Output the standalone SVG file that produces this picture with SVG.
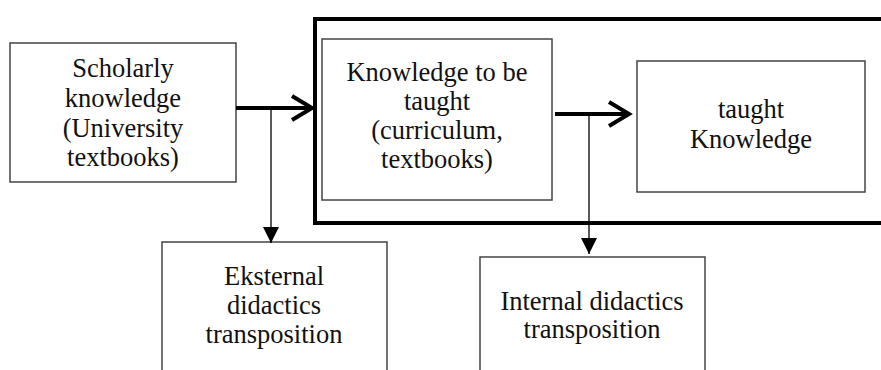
<svg xmlns="http://www.w3.org/2000/svg" width="881" height="370" viewBox="0 0 881 370">
<style>
.box{fill:#fff;stroke:#444;stroke-width:1.5}
.frame{fill:none;stroke:#000;stroke-width:4}
.t{font-family:"Liberation Serif","Times New Roman",serif;font-size:26.5px;fill:#111;text-anchor:middle}
.thick{fill:none;stroke:#000;stroke-width:4}
.thin{fill:none;stroke:#000;stroke-width:1.3}
</style>
<defs>
<marker id="tri" viewBox="0 0 10 10" refX="10" refY="5" markerWidth="16" markerHeight="16" markerUnits="userSpaceOnUse" orient="auto">
<path d="M0,0 L10,5 L0,10 Z" fill="#000"/>
</marker>
</defs>
<rect class="frame" x="315" y="19" width="580" height="204"/>
<g id="scholarly">
<rect class="box" x="10" y="43" width="226" height="139"/>
<text class="t" x="123" y="77">Scholarly</text>
<text class="t" x="123" y="107">knowledge</text>
<text class="t" x="123" y="137">(University</text>
<text class="t" x="123" y="166">textbooks)</text>
</g>
<g id="tobetaught">
<rect class="box" x="322" y="39" width="230" height="161"/>
<text class="t" x="437" y="81">Knowledge to be</text>
<text class="t" x="437" y="110">taught</text>
<text class="t" x="437" y="139">(curriculum,</text>
<text class="t" x="437" y="168">textbooks)</text>
</g>
<g id="taught">
<rect class="box" x="637" y="61" width="228" height="131"/>
<text class="t" x="751" y="118">taught</text>
<text class="t" x="751" y="148">Knowledge</text>
</g>
<g id="eksternal">
<rect class="box" x="162" y="242" width="225" height="140"/>
<text class="t" x="274" y="285">Eksternal</text>
<text class="t" x="274" y="314">didactics</text>
<text class="t" x="274" y="343">transposition</text>
</g>
<g id="internal">
<rect class="box" x="480" y="257" width="225" height="125"/>
<text class="t" x="592" y="310">Internal didactics</text>
<text class="t" x="592" y="338">transposition</text>
</g>
<g id="connectors">
<path class="thick" d="M236,108 H311"/>
<path class="thick" d="M292,96 L312,108 L292,120"/>
<path class="thick" d="M555,114 H628"/>
<path class="thick" d="M609,102 L629,114 L609,126"/>
<path class="thin" d="M271,108 V243" marker-end="url(#tri)"/>
<path class="thin" d="M589,114 V254" marker-end="url(#tri)"/>
</g>
</svg>
